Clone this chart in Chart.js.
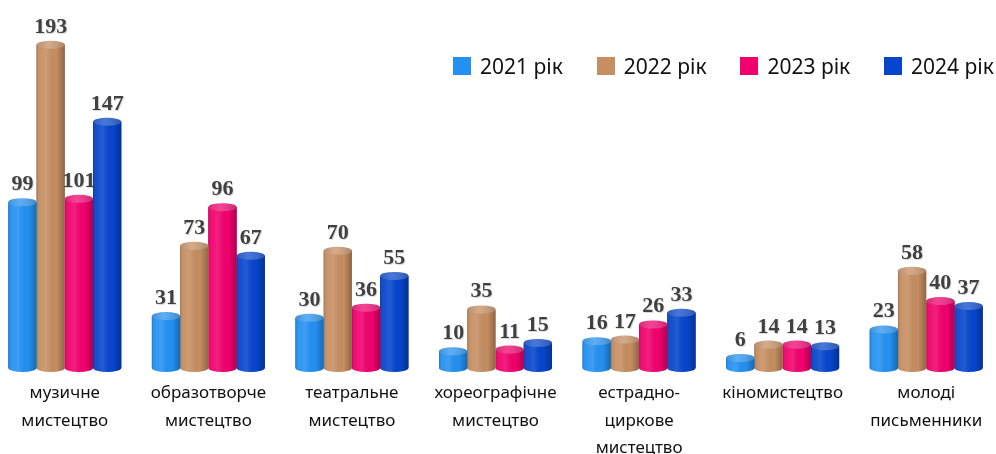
<!DOCTYPE html>
<html>
<head>
<meta charset="utf-8">
<script src="https://cdn.jsdelivr.net/npm/chart.js@4.4.1/dist/chart.umd.min.js"></script>
<style>
  html, body { margin: 0; padding: 0; background: #ffffff; overflow: hidden; }
  body { width: 996px; height: 454px; position: relative; }
  #wrap { position: absolute; left: -7px; top: 0; width: 1005px; height: 454px; }
  #legend { position: absolute; left: 453px; top: 52px; display: flex; align-items: center;
            font-family: "Noto Sans", sans-serif; font-size: 21px; line-height: 28px; color: #111111; }
  #legend .item { display: flex; align-items: center; width: 143.7px; white-space: nowrap; }
  #legend .box { width: 18px; height: 18px; margin-right: 9px; flex: none; }
</style>
</head>
<body>
<div id="wrap"><canvas id="c"></canvas></div>
<div id="legend"></div>
<script>
const categories = [
  ['музичне', 'мистецтво'],
  ['образотворче', 'мистецтво'],
  ['театральне', 'мистецтво'],
  ['хореографічне', 'мистецтво'],
  ['естрадно-', 'циркове', 'мистецтво'],
  ['кіномистецтво'],
  ['молоді', 'письменники']
];
const seriesNames = ['2021 рік', '2022 рік', '2023 рік', '2024 рік'];
const values2021 = [99, 31, 30, 10, 16, 6, 23];
const values2022 = [193, 73, 70, 35, 17, 14, 58];
const values2023 = [101, 96, 36, 11, 26, 14, 40];
const values2024 = [147, 67, 55, 15, 33, 13, 37];
const seriesColors = ['#2391F2', '#C68E61', '#F2006E', '#0645CC'];

const allValues = [values2021, values2022, values2023, values2024];

// HTML legend
const legendEl = document.getElementById('legend');
seriesNames.forEach((n, i) => {
  const it = document.createElement('div'); it.className = 'item';
  const b = document.createElement('div'); b.className = 'box'; b.style.background = seriesColors[i];
  const t = document.createElement('span'); t.textContent = n;
  it.appendChild(b); it.appendChild(t); legendEl.appendChild(it);
});

function mix(hex, t, target) {
  const n = parseInt(hex.slice(1), 16);
  const r = (n >> 16) & 255, g = (n >> 8) & 255, b = n & 255;
  const tr = target === 'w' ? 255 : 0;
  return `rgb(${Math.round(r + (tr - r) * t)},${Math.round(g + (tr - g) * t)},${Math.round(b + (tr - b) * t)})`;
}

const cylinderPlugin = {
  id: 'cylinder',
  afterDatasetDraw(chart, args) {
    const ctx = chart.ctx;
    const meta = args.meta;
    const color = seriesColors[args.index];
    meta.data.forEach(el => {
      const p = el.getProps(['x', 'y', 'base', 'width'], true);
      const w = p.width, l = p.x - w / 2, r = p.x + w / 2;
      const ry = Math.min(4, w / 6);
      ctx.save();
      ctx.beginPath();
      ctx.moveTo(l, p.y);
      ctx.lineTo(l, p.base);
      ctx.ellipse(p.x, p.base, w / 2, ry, 0, Math.PI, 0, true);
      ctx.lineTo(r, p.y);
      ctx.closePath();
      ctx.fillStyle = color;
      ctx.fill();
      const g = ctx.createLinearGradient(l, 0, r, 0);
      g.addColorStop(0, 'rgba(0,0,0,0.18)');
      g.addColorStop(0.12, 'rgba(255,255,255,0.05)');
      g.addColorStop(0.35, 'rgba(255,255,255,0.12)');
      g.addColorStop(0.7, 'rgba(0,0,0,0.0)');
      g.addColorStop(1, 'rgba(0,0,0,0.28)');
      ctx.fillStyle = g;
      ctx.fill();
      ctx.beginPath();
      ctx.ellipse(p.x, p.y, w / 2, ry, 0, 0, Math.PI * 2);
      ctx.fillStyle = mix(color, 0.18, 'w');
      ctx.fill();
      const g2 = ctx.createLinearGradient(l, 0, r, 0);
      g2.addColorStop(0, 'rgba(0,0,0,0.12)');
      g2.addColorStop(0.4, 'rgba(255,255,255,0.1)');
      g2.addColorStop(1, 'rgba(0,0,0,0.18)');
      ctx.fillStyle = g2;
      ctx.fill();
      ctx.restore();
    });
  },
  afterDatasetsDraw(chart) {
    const ctx = chart.ctx;
    ctx.save();
    ctx.font = 'bold 22px "Liberation Serif", serif';
    ctx.textAlign = 'center';
    ctx.textBaseline = 'alphabetic';
    chart.data.datasets.forEach((ds, di) => {
      const meta = chart.getDatasetMeta(di);
      meta.data.forEach((el, i) => {
        const p = el.getProps(['x', 'y'], true);
        ctx.fillStyle = 'rgba(0,0,0,0.15)';
        ctx.fillText(String(ds.data[i]), p.x + 1, p.y - 11);
        ctx.fillStyle = '#404040';
        ctx.fillText(String(ds.data[i]), p.x, p.y - 12);
      });
    });
    ctx.restore();
  }
};

new Chart(document.getElementById('c'), {
  type: 'bar',
  data: {
    labels: categories,
    datasets: seriesNames.map((n, i) => ({
      label: n,
      data: allValues[i],
      backgroundColor: seriesColors[i],
      borderWidth: 0,
      barPercentage: 1.0,
      categoryPercentage: 0.787
    }))
  },
  options: {
    responsive: true,
    maintainAspectRatio: false,
    animation: false,
    layout: { padding: { top: 33, left: 0, right: 0, bottom: 0 } },
    plugins: { legend: { display: false }, tooltip: { enabled: false } },
    scales: {
      x: {
        grid: { display: false, drawTicks: false },
        border: { display: false },
        ticks: {
          color: '#111111',
          padding: 12,
          maxRotation: 0,
          autoSkip: false,
          font: { family: '"Noto Sans", sans-serif', size: 17, lineHeight: 1.6 }
        },
        afterFit(scale) { scale.height = 86; }
      },
      y: { display: false, min: 0, max: 200 }
    }
  },
  plugins: [cylinderPlugin]
});
</script>
</body>
</html>
